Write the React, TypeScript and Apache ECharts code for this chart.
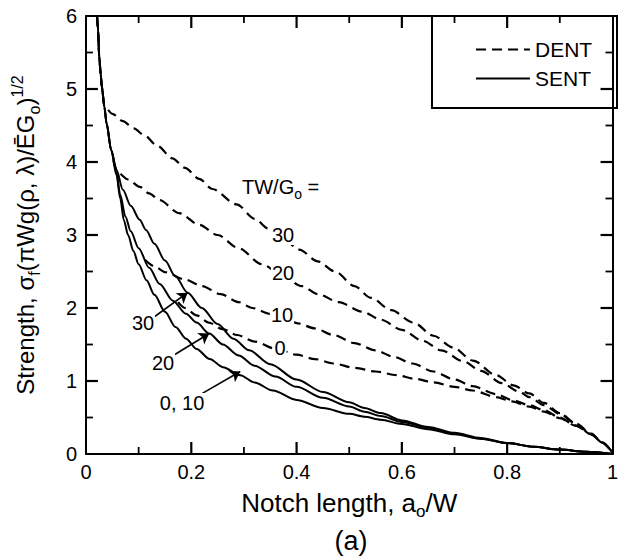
import React, { useEffect, useRef } from "react";
import * as echarts from "echarts";

const FONT = "'Liberation Sans', Arial, Helvetica, sans-serif";

const xTicks = [0, 0.2, 0.4, 0.6, 0.8, 1];
const xMinorTicks = [0.1, 0.3, 0.5, 0.7, 0.9];
const yTicks = [0, 1, 2, 3, 4, 5, 6];
const yMinorTicks = [0.5, 1.5, 2.5, 3.5, 4.5, 5.5];

const dent30: number[][] = [
  [0.021, 6.0], [0.023, 5.8], [0.025, 5.45], [0.028, 5.2], [0.030, 5.03], [0.035, 4.76],
  [0.05, 4.66], [0.07, 4.56], [0.091, 4.46], [0.11, 4.37], [0.136, 4.22], [0.164, 4.05],
  [0.188, 3.92], [0.215, 3.77], [0.24, 3.63], [0.286, 3.42], [0.321, 3.22], [0.346, 3.09],
  [0.37, 2.98], [0.405, 2.80], [0.44, 2.64], [0.473, 2.50], [0.51, 2.30], [0.541, 2.14],
  [0.58, 1.97], [0.622, 1.80], [0.66, 1.62], [0.697, 1.46], [0.735, 1.28], [0.779, 1.08],
  [0.812, 0.94], [0.842, 0.83], [0.87, 0.70], [0.9, 0.56], [0.93, 0.42], [0.96, 0.27],
  [0.98, 0.16], [1.0, 0.02],
];
const dent20: number[][] = [
  [0.052, 4.02], [0.061, 3.85], [0.08, 3.76], [0.102, 3.66], [0.12, 3.57], [0.139, 3.48],
  [0.177, 3.30], [0.215, 3.14], [0.25, 3.0], [0.29, 2.82], [0.334, 2.60], [0.369, 2.47],
  [0.41, 2.30], [0.441, 2.19], [0.48, 2.08], [0.525, 1.95], [0.56, 1.84], [0.60, 1.70],
  [0.64, 1.55], [0.675, 1.42], [0.717, 1.27], [0.75, 1.14], [0.79, 0.97], [0.824, 0.85],
  [0.842, 0.78], [0.87, 0.67], [0.9, 0.55], [0.93, 0.42], [0.96, 0.28], [0.98, 0.16],
  [1.0, 0.02],
];
const dent10: number[][] = [
  [0.112, 2.66], [0.13, 2.57], [0.151, 2.49], [0.188, 2.39], [0.22, 2.30], [0.256, 2.19],
  [0.29, 2.08], [0.316, 2.00], [0.35, 1.92], [0.375, 1.86], [0.402, 1.79], [0.435, 1.72],
  [0.47, 1.63], [0.51, 1.52], [0.55, 1.42], [0.585, 1.33], [0.62, 1.24], [0.66, 1.13],
  [0.70, 1.02], [0.734, 0.93], [0.779, 0.82], [0.809, 0.74], [0.842, 0.67], [0.87, 0.60],
  [0.9, 0.50], [0.93, 0.39], [0.96, 0.27], [0.98, 0.16], [1.0, 0.02],
];
const dent0: number[][] = [
  [0.175, 2.08], [0.188, 2.0], [0.21, 1.9], [0.233, 1.80], [0.26, 1.71], [0.287, 1.63],
  [0.32, 1.54], [0.361, 1.44], [0.40, 1.36], [0.435, 1.30], [0.47, 1.24], [0.51, 1.18],
  [0.55, 1.13], [0.59, 1.08], [0.625, 1.03], [0.66, 0.98], [0.70, 0.92], [0.734, 0.87],
  [0.779, 0.78], [0.809, 0.72], [0.842, 0.65], [0.87, 0.58], [0.9, 0.49], [0.93, 0.39],
  [0.96, 0.27], [0.98, 0.16], [1.0, 0.02],
];

const sent30: number[][] = [
  [0.021, 6.0], [0.023, 5.8], [0.025, 5.45], [0.028, 5.2], [0.030, 5.03], [0.035, 4.75],
  [0.039, 4.53], [0.048, 4.16], [0.058, 3.89], [0.07, 3.62], [0.085, 3.40], [0.102, 3.21],
  [0.114, 3.07], [0.13, 2.88], [0.15, 2.65], [0.17, 2.43], [0.193, 2.21], [0.22, 2.0],
  [0.25, 1.78], [0.28, 1.58], [0.31, 1.42], [0.35, 1.23], [0.40, 1.02], [0.45, 0.85],
  [0.50, 0.71], [0.529, 0.63], [0.56, 0.56], [0.60, 0.46], [0.65, 0.37], [0.70, 0.29],
  [0.75, 0.22], [0.80, 0.15], [0.85, 0.10], [0.90, 0.06], [0.95, 0.03], [1.0, 0.0],
];
const sent20: number[][] = [
  [0.021, 6.0], [0.023, 5.8], [0.025, 5.45], [0.028, 5.2], [0.030, 5.03], [0.035, 4.75],
  [0.039, 4.53], [0.048, 4.16], [0.058, 3.85], [0.065, 3.55], [0.075, 3.25], [0.085, 3.05],
  [0.10, 2.82], [0.12, 2.55], [0.14, 2.33], [0.165, 2.10], [0.19, 1.92], [0.21, 1.80],
  [0.234, 1.65], [0.26, 1.50], [0.29, 1.35], [0.32, 1.21], [0.36, 1.06], [0.40, 0.92],
  [0.45, 0.77], [0.5, 0.65], [0.529, 0.58], [0.56, 0.52], [0.60, 0.44], [0.65, 0.36],
  [0.70, 0.28], [0.75, 0.21], [0.80, 0.15], [0.85, 0.10], [0.90, 0.06], [0.95, 0.03],
  [1.0, 0.0],
];
const sent0: number[][] = [
  [0.021, 6.0], [0.023, 5.8], [0.025, 5.45], [0.028, 5.2], [0.030, 5.03], [0.035, 4.75],
  [0.039, 4.53], [0.048, 4.16], [0.058, 3.82], [0.065, 3.5], [0.072, 3.2], [0.08, 3.0],
  [0.09, 2.78], [0.10, 2.6], [0.115, 2.38], [0.13, 2.18], [0.15, 1.95], [0.17, 1.74],
  [0.19, 1.58], [0.21, 1.44], [0.235, 1.30], [0.26, 1.19], [0.293, 1.08], [0.32, 0.98],
  [0.355, 0.87], [0.40, 0.74], [0.45, 0.63], [0.5, 0.55], [0.529, 0.51], [0.56, 0.47],
  [0.60, 0.41], [0.65, 0.34], [0.70, 0.27], [0.75, 0.21], [0.80, 0.15], [0.85, 0.10],
  [0.90, 0.06], [0.95, 0.03], [1.0, 0.0],
];

const sentArrows: number[][][] = [
  [[0.13, 1.88], [0.193, 2.21]],
  [[0.168, 1.36], [0.234, 1.65]],
  [[0.221, 0.83], [0.293, 1.13]],
];

const legendNames = ["DENT", "SENT"];

const GRID = { left: 86, top: 16, right: 4, bottom: 103 };
const PLOT_W = 621 - GRID.left - GRID.right;
const PLOT_H = 557 - GRID.top - GRID.bottom;

// tick marks drawn as short line series on all four frame sides
function buildTickSeries() {
  const x0 = xTicks[0], x1 = xTicks[xTicks.length - 1];
  const y0 = yTicks[0], y1 = yTicks[yTicks.length - 1];
  const out: any[] = [];
  const seg = (a: number[], b: number[], w: number) =>
    out.push({
      type: "line",
      name: "tick",
      data: [a, b],
      showSymbol: false,
      symbol: "none",
      silent: true,
      z: 8,
      lineStyle: { color: "#000", width: w, type: "solid", cap: "butt" },
    });
  const addX = (vals: number[], lenPx: number, w: number) => {
    const d = (lenPx / PLOT_H) * (y1 - y0);
    vals.forEach((v) => {
      seg([v, y0], [v, y0 + d], w);
      seg([v, y1], [v, y1 - d], w);
    });
  };
  const addY = (vals: number[], lenPx: number, w: number) => {
    const d = (lenPx / PLOT_W) * (x1 - x0);
    vals.forEach((v) => {
      seg([x0, v], [x0 + d, v], w);
      seg([x1, v], [x1 - d, v], w);
    });
  };
  addX(xTicks.slice(1, -1), 12, 2.2);
  addX(xMinorTicks, 7, 1.8);
  addY(yTicks.slice(1, -1), 12, 2.2);
  addY(yMinorTicks, 7, 1.8);
  return out;
}

const axisLine = { show: true, onZero: false, lineStyle: { color: "#000", width: 2 } };
const labelStyle = { color: "#000", fontFamily: FONT, fontSize: 20 };

export default function App() {
  const ref = useRef<HTMLDivElement>(null);
  useEffect(() => {
    document.body.style.margin = "0";
    const chart = echarts.init(ref.current!, undefined, { renderer: "svg" });
    const dashed = { color: "#000", width: 2.2, type: [10, 6] as number[] };
    const solid = { color: "#000", width: 2, type: "solid" as const };
    const mk = (name: string, data: number[][], ls: any, extra: any = {}) => ({
      type: "line",
      name,
      data,
      showSymbol: false,
      symbol: "none",
      smooth: 0.3,
      smoothMonotone: "x",
      lineStyle: ls,
      itemStyle: { color: "#000" },
      ...extra,
    });
    const xFmt = (v: number) => {
      const r = Math.round(v * 10) / 10;
      return r === 0 ? "0" : r === 1 ? "1" : r.toFixed(1);
    };
    chart.setOption({
      animation: false,
      backgroundColor: "#fff",
      grid: { ...GRID, containLabel: false },
      xAxis: [
        {
          type: "value", min: xTicks[0], max: xTicks[xTicks.length - 1], interval: 0.2,
          position: "bottom",
          axisLine, axisTick: { show: false }, splitLine: { show: false },
          axisLabel: { ...labelStyle, margin: 8, formatter: xFmt },
          name: "{t|Notch length, a}{s|o}{t|/W}",
          nameLocation: "middle",
          nameGap: 31,
          nameTextStyle: {
            rich: {
              t: { fontFamily: FONT, fontSize: 26, color: "#000" },
              s: { fontFamily: FONT, fontSize: 17, color: "#000", padding: [18, 0, 0, 0] },
            },
          },
        },
        {
          type: "value", min: 0, max: 1, interval: 0.2, position: "top",
          axisLine, axisTick: { show: false }, splitLine: { show: false },
          axisLabel: { show: false },
        },
      ],
      yAxis: [
        {
          type: "value", min: yTicks[0], max: yTicks[yTicks.length - 1], interval: 1,
          position: "left",
          axisLine, axisTick: { show: false }, splitLine: { show: false },
          axisLabel: { ...labelStyle, margin: 9 },
          name: "{t|Strength, σ}{s|f}{t|(πWg(ρ, λ)/ĒG}{s|o}{t|)}{p|1/2}",
          nameLocation: "middle",
          nameGap: 44,
          nameRotate: 90,
          nameTextStyle: {
            rich: {
              t: { fontFamily: FONT, fontSize: 24, color: "#000" },
              s: { fontFamily: FONT, fontSize: 16, color: "#000", padding: [17, 0, 0, 0] },
              p: { fontFamily: FONT, fontSize: 16, color: "#000", padding: [0, 0, 17, 0] },
            },
          },
        },
        {
          type: "value", min: 0, max: 6, interval: 1, position: "right",
          axisLine, axisTick: { show: false }, splitLine: { show: false },
          axisLabel: { show: false },
        },
      ],
      legend: {
        data: legendNames,
        orient: "vertical",
        left: 470,
        top: 34,
        itemWidth: 54,
        itemHeight: 14,
        itemGap: 8,
        selectedMode: false,
        itemStyle: { color: "rgba(0,0,0,0)", borderWidth: 0, opacity: 0 },
        textStyle: { fontFamily: FONT, fontSize: 21, color: "#000" },
      },
      series: [
        mk("DENT", dent30, dashed),
        mk("DENT", dent20, dashed),
        mk("DENT", dent10, dashed),
        mk("DENT", dent0, dashed),
        mk("SENT", sent30, solid, {
          markLine: {
            silent: true,
            symbol: ["none", "arrow"],
            symbolSize: 10,
            label: { show: false },
            lineStyle: { color: "#000", width: 1.6, type: "solid" },
            data: sentArrows.map((a) => [{ coord: a[0] }, { coord: a[1] }]),
          },
        }),
        mk("SENT", sent20, solid),
        mk("SENT", sent0, solid),
        ...buildTickSeries(),
      ],
      graphic: [
        {
          type: "rect",
          shape: { x: 432, y: 16, width: 185, height: 92 },
          style: { fill: "none", stroke: "#000", lineWidth: 2 },
          z: 10,
        },
        {
          type: "text", x: 242, y: 187, z: 20,
          style: {
            text: "{t|TW/G}{s|o}{t| =}",
            verticalAlign: "middle",
            rich: {
              t: { fontFamily: FONT, fontSize: 20, fill: "#000" },
              s: { fontFamily: FONT, fontSize: 14, fill: "#000", padding: [13, 0, 0, 0] },
            },
          },
        },
        ...[
          ["30", 283, 235], ["20", 283, 273], ["10", 282, 315], ["0", 280, 348],
          ["30", 143, 323], ["20", 163, 363], ["0, 10", 182, 403],
        ].map(([t, x, y]) => ({
          type: "text", x: x as number, y: y as number, z: 20,
          style: {
            text: t as string, fontFamily: FONT, fontSize: 20, fill: "#000",
            align: "center", verticalAlign: "middle",
            backgroundColor: "#fff", padding: [0, 1],
          },
        })),
        {
          type: "text", x: 351, y: 541, z: 20,
          style: {
            text: "(a)", fontFamily: FONT, fontSize: 27, fill: "#000",
            align: "center", verticalAlign: "middle",
          },
        },
      ],
    });
    return () => chart.dispose();
  }, []);
  return <div ref={ref} style={{ width: 621, height: 557 }} />;
}
